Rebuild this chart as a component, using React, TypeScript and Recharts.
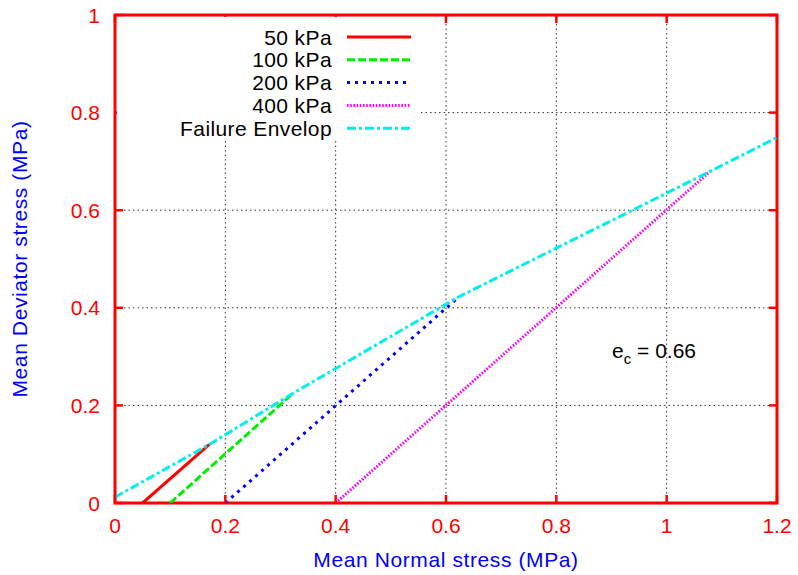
import React from "react";
import { CartesianGrid, Legend, Line, LineChart, ReferenceArea, ReferenceDot, XAxis, YAxis } from "recharts";

// mean normal stress p (MPa) / mean deviator stress q (MPa)
const SERIES_NAMES = ["50 kPa", "100 kPa", "200 kPa", "400 kPa", "Failure Envelop"];
const P50 = [0.05, 0.171];
const Q50 = [0, 0.12];
const P100 = [0.1, 0.323];
const Q100 = [0, 0.225];
const P200 = [0.2, 0.624];
const Q200 = [0, 0.423];
const P400 = [0.4, 1.078];
const Q400 = [0, 0.679];
const ENV_P = [0, 0.171, 0.323, 0.624, 1.078, 1.2];
const ENV_Q = [0.012, 0.12, 0.225, 0.423, 0.679, 0.749];

const X_TICKS = [0, 0.2, 0.4, 0.6, 0.8, 1, 1.2];
const Y_TICKS = [0, 0.2, 0.4, 0.6, 0.8, 1];
const E_C = 0.66;

const toPoints = (xs: number[], ys: number[]) => xs.map((x, i) => ({ x, y: ys[i] }));

const SERIES_DATA = [
  toPoints(P50, Q50),
  toPoints(P100, Q100),
  toPoints(P200, Q200),
  toPoints(P400, Q400),
  toPoints(ENV_P, ENV_Q),
];

const STYLES = [
  { color: "#ff0000", dash: undefined },
  { color: "#00ee00", dash: "8 3" },
  { color: "#0000ff", dash: "3 5" },
  { color: "#ff00ff", dash: "1.6 1.6" },
  { color: "#00eeee", dash: "9 3 3 3" },
];

const FONT = "'Liberation Sans', Arial, Helvetica, sans-serif";
const RED = "#ff0000";
const BLUE = "#0000ff";

const W = 798;
const H = 575;
const PLOT_TOP = 15;
const PLOT_RIGHT = 777;
const TICK = 8;

function KeyBox() {
  return (
    <svg width={303} height={124} style={{ display: "block" }}>
      {SERIES_NAMES.map((name, i) => {
        const cy = 20 + i * 22.8;
        return (
          <g key={name}>
            <text
              x={215}
              y={cy}
              textAnchor="end"
              dominantBaseline="central"
              fontFamily={FONT}
              fontSize={21}
              letterSpacing={0.4}
              fill="#000"
            >
              {name}
            </text>
            <line
              x1={230}
              x2={294}
              y1={cy}
              y2={cy}
              stroke={STYLES[i].color}
              strokeWidth={3}
              strokeDasharray={STYLES[i].dash}
            />
          </g>
        );
      })}
    </svg>
  );
}

function XTick({ x, y, payload }: any) {
  return (
    <g>
      <line x1={x} x2={x} y1={y} y2={y - TICK} stroke={RED} strokeWidth={2.5} />
      <line x1={x} x2={x} y1={PLOT_TOP} y2={PLOT_TOP + TICK} stroke={RED} strokeWidth={2.5} />
      <text x={x} y={y + 30} textAnchor="middle" fontFamily={FONT} fontSize={21} fill={RED}>
        {String(payload.value)}
      </text>
    </g>
  );
}

function YTick({ x, y, payload }: any) {
  return (
    <g>
      <line x1={x} x2={x + TICK} y1={y} y2={y} stroke={RED} strokeWidth={2.5} />
      <line x1={PLOT_RIGHT} x2={PLOT_RIGHT - TICK} y1={y} y2={y} stroke={RED} strokeWidth={2.5} />
      <text x={x - 15} y={y} textAnchor="end" dominantBaseline="central" fontFamily={FONT} fontSize={21} fill={RED}>
        {String(payload.value)}
      </text>
    </g>
  );
}

export default function App() {
  return (
    <div style={{ position: "absolute", left: 0, top: 0, width: W, height: H, background: "#fff" }}>
      <LineChart width={W} height={H} margin={{ top: PLOT_TOP, right: W - PLOT_RIGHT, bottom: 32, left: 25 }}>
        <CartesianGrid stroke="#333" strokeDasharray="1.5 3" strokeWidth={1} />
        <XAxis
          type="number"
          dataKey="x"
          domain={[0, 1.2]}
          ticks={X_TICKS}
          allowDataOverflow
          height={40}
          tickSize={0}
          tickMargin={0}
          tick={<XTick />}
          axisLine={false}
          tickLine={false}
          label={{
            content: ({ viewBox }: any) => (
              <text
                x={viewBox.x + viewBox.width / 2}
                y={567}
                textAnchor="middle"
                fontFamily={FONT}
                fontSize={21}
                letterSpacing={0.6}
                fill={BLUE}
              >
                Mean Normal stress (MPa)
              </text>
            ),
          }}
        />
        <YAxis
          type="number"
          domain={[0, 1]}
          ticks={Y_TICKS}
          allowDataOverflow
          width={90}
          tickSize={0}
          tickMargin={0}
          tick={<YTick />}
          axisLine={false}
          tickLine={false}
          label={{
            content: ({ viewBox }: any) => {
              const cx = 27;
              const cy = viewBox.y + viewBox.height / 2;
              return (
                <text
                  x={cx}
                  y={cy}
                  transform={`rotate(-90, ${cx}, ${cy})`}
                  textAnchor="middle"
                  fontFamily={FONT}
                  fontSize={21}
                  letterSpacing={0.6}
                  fill={BLUE}
                >
                  Mean Deviator stress (MPa)
                </text>
              );
            },
          }}
        />
        {SERIES_DATA.map((pts, i) => (
          <Line
            key={SERIES_NAMES[i]}
            data={pts}
            dataKey="y"
            name={SERIES_NAMES[i]}
            type="linear"
            stroke={STYLES[i].color}
            strokeWidth={3}
            strokeDasharray={STYLES[i].dash}
            dot={false}
            activeDot={false}
            isAnimationActive={false}
          />
        ))}
        <ReferenceArea
          x1={0}
          x2={1.2}
          y1={0}
          y2={1}
          fill="none"
          fillOpacity={0}
          stroke={RED}
          strokeWidth={3}
          strokeOpacity={1}
        />
        <ReferenceDot
          x={0.901}
          y={0.2965}
          r={0}
          stroke="none"
          fill="none"
          label={{
            content: ({ viewBox }: any) => (
              <text x={viewBox.x} y={viewBox.y} fontFamily={FONT} fontSize={21} fill="#000">
                e
                <tspan fontSize={15} dy={6}>
                  c
                </tspan>
                <tspan dy={-6}>{` = ${E_C}`}</tspan>
              </text>
            ),
          }}
        />
        <Legend
          layout="vertical"
          align="center"
          verticalAlign="middle"
          content={() => <KeyBox />}
          wrapperStyle={{ left: 117, top: 17, width: 303, height: 123, background: "#fff" }}
        />
      </LineChart>
    </div>
  );
}
